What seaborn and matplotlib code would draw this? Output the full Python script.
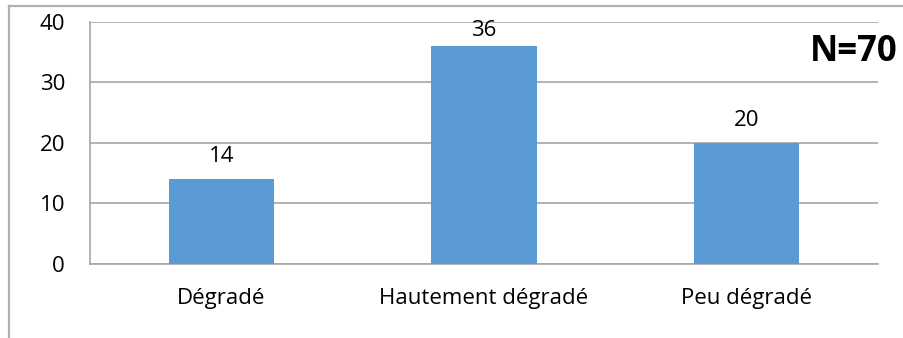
import matplotlib
matplotlib.use("Agg")
import matplotlib.pyplot as plt
import seaborn as sns
import pandas as pd

categories = ["Dégradé", "Hautement dégradé", "Peu dégradé"]
counts = [14, 36, 20]
y_ticks = [0, 10, 20, 30, 40]
total_label = "N=70"

data = pd.DataFrame({"Etat": categories, "Effectif": counts})

sns.set_style("white")
plt.rcParams["font.family"] = ["Open Sans", "DejaVu Sans"]

fig = plt.figure(figsize=(9.04, 3.38), dpi=100)

# outer chart frame (cut off on the right and bottom)
frame = fig.add_axes([8.5 / 904, -0.05, 1.0, 1.05 - 6 / 338], zorder=-1)
frame.set_xticks([])
frame.set_yticks([])
frame.patch.set_alpha(0)
for s in ["right", "bottom"]:
    frame.spines[s].set_visible(False)
for s in ["left", "top"]:
    frame.spines[s].set_color("#b0b0b0")
    frame.spines[s].set_linewidth(1.6)

ax = fig.add_axes([0.0996, 0.219, 0.8716, 0.716])

sns.barplot(x="Etat", y="Effectif", data=data, color="#5B9BD5", width=0.4,
            saturation=1, linewidth=0, ax=ax, zorder=3)

ax.set_ylim(0, 40)
ax.set_xlim(-0.5, 2.5)
ax.set_yticks(y_ticks)
ax.yaxis.grid(True, color="#a6a6a6", linewidth=1.2, zorder=0)
ax.set_axisbelow(True)
ax.set_xlabel("")
ax.set_ylabel("")

for s in ["top", "right"]:
    ax.spines[s].set_visible(False)
for s in ["left", "bottom"]:
    ax.spines[s].set_color("#a6a6a6")
    ax.spines[s].set_linewidth(1.2)

ax.tick_params(axis="y", length=6, width=1.2, color="#a6a6a6", labelsize=16, pad=12)
ax.tick_params(axis="x", which="major", length=0, labelsize=16, pad=17)
ax.set_xticks([-0.5, 0.5, 1.5, 2.5], minor=True)
ax.tick_params(axis="x", which="minor", length=7, width=1.2, color="#a6a6a6")

for lbl in ax.get_xticklabels() + ax.get_yticklabels():
    lbl.set_color("black")

# data labels (Excel pushes the tallest one down to stay inside the plot)
for i, v in enumerate(counts):
    ax.text(i, min(v + 2.8, 37.6), str(v), ha="center", va="baseline",
            fontsize=16, color="black")

fig.text(0.993, 0.845, total_label, ha="right", va="center", fontsize=25,
         fontweight="bold", color="black")

fig.savefig("out.png", dpi=100)
